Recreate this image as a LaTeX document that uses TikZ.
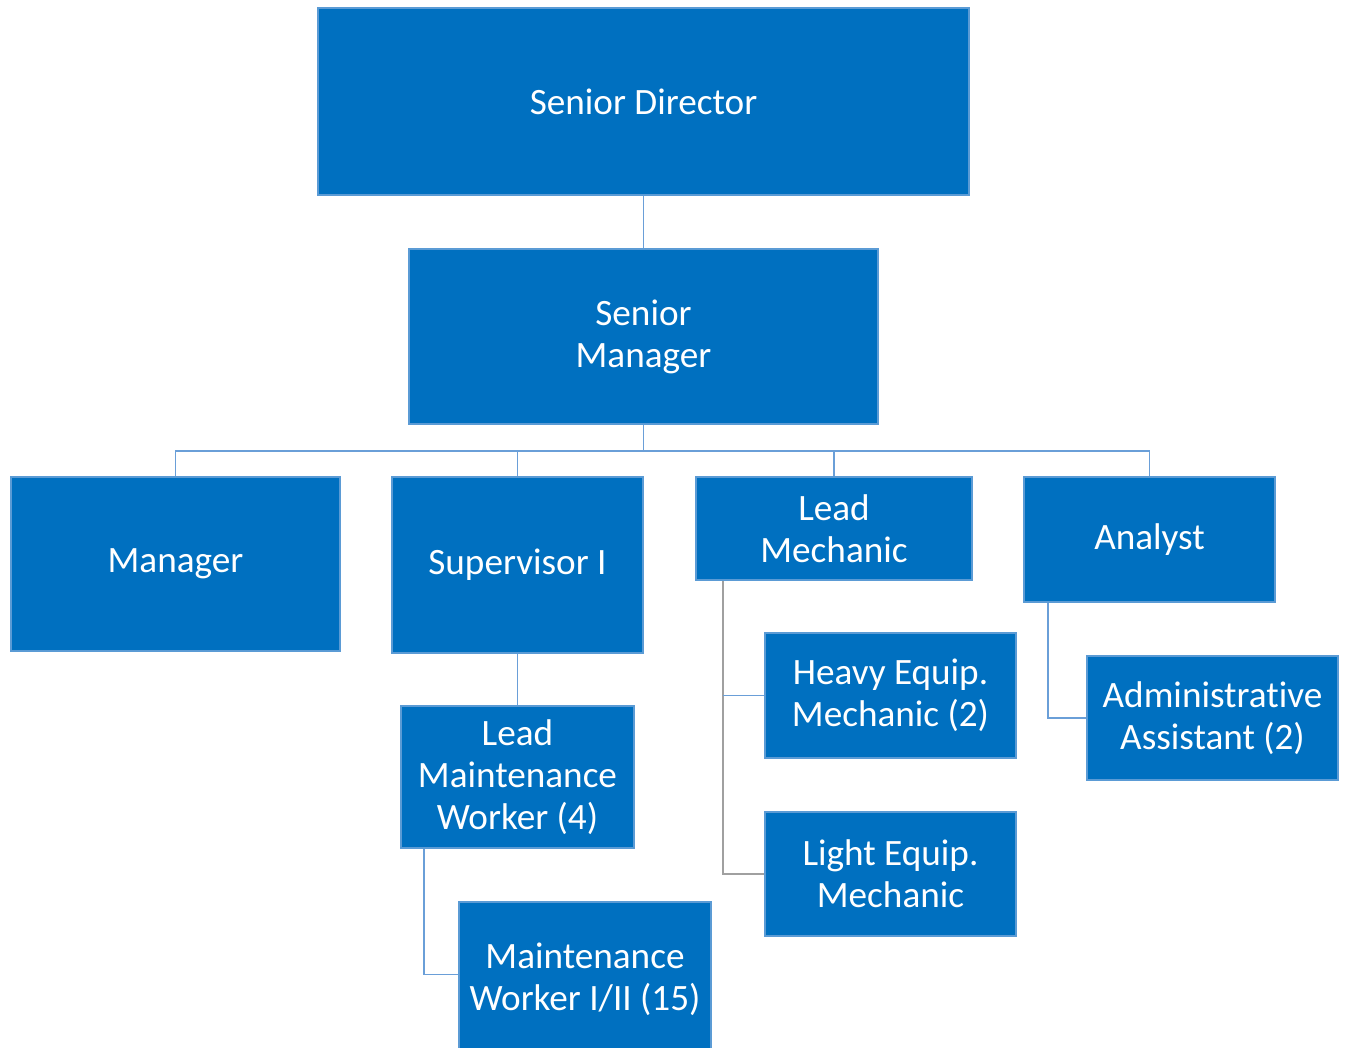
\documentclass[tikz,border=0pt]{standalone}
\usepackage{fontspec}
\setmainfont[Ligatures={NoCommon}]{Carlito}
\usetikzlibrary{calc}

\definecolor{boxfill}{HTML}{0070C0}
\definecolor{boxline}{HTML}{5B9BD5}
\definecolor{linkblue}{HTML}{6A9FD8}
\definecolor{linkgrey}{HTML}{A0A0A0}

\begin{document}
\begin{tikzpicture}[x=0.5pt, y=-0.5pt,
  orgbox/.style={draw=boxline, fill=boxfill, line width=1pt, text=white,
    align=center, inner sep=0pt, font=\fontsize{18.6}{21}\selectfont},
  link/.style={draw=linkblue, line width=0.75pt},
  greylink/.style={draw=linkgrey, line width=0.75pt}]
\useasboundingbox (0,0) rectangle (1348,1048);

% top levels
\node[orgbox, minimum width=325.5pt, minimum height=93.5pt] (sd) at (643.5,101.5) {Senior Director};
\node[orgbox, minimum width=234.5pt, minimum height=87.5pt] (sm) at (643.5,336.5) {Senior\\Manager};

% third level
\node[orgbox, minimum width=164.5pt, minimum height=87pt] (mgr) at (175.5,564) {Manager};
\node[orgbox, minimum width=125.5pt, minimum height=88pt] (sup) at (517.5,565) {Supervisor I};
\node[orgbox, minimum width=138pt, minimum height=51.5pt] (lm) at (834,528.5) {Lead\\Mechanic};
\node[orgbox, minimum width=125.5pt, minimum height=62.5pt] (ana) at (1149.5,539.5) {Analyst};

% lower levels
\node[orgbox, minimum width=116.5pt, minimum height=71pt] (lmw) at (517.5,777) {Lead\\Maintenance\\Worker (4)};
\node[orgbox, minimum width=126pt, minimum height=77pt, anchor=north] (mw) at (585,901) {Maintenance\\Worker I/II (15)};
\node[orgbox, minimum width=125.5pt, minimum height=62.5pt] (hem) at (890.5,695.5) {Heavy Equip.\\Mechanic (2)};
\node[orgbox, minimum width=125.5pt, minimum height=62pt] (lem) at (890.5,874) {Light Equip.\\Mechanic};
\node[orgbox, minimum width=125.5pt, minimum height=62pt] (aa) at (1212.5,718) {Administrative\\Assistant (2)};

% connectors
\coordinate (bus) at (643.5,451);
\draw[link] (sd) -- (sm);
\draw[link] (sm) -- (bus);
\draw[link] (mgr.north) |- (bus) -| (ana.north);
\draw[link] (sup.north) -- (sup.north |- bus);
\draw[link] (lm.north) -- (lm.north |- bus);

\draw[link] (sup) -- (lmw);
\draw[link] ([xshift=12pt]lmw.south west) |- ($(mw.north west)!0.47!(mw.south west)$);

\draw[greylink] ([xshift=14pt]lm.south west) |- (lem.west);
\draw[link] ([xshift=14pt]lm.south west |- hem.west) -- (hem.west);

\draw[link] ([xshift=12.5pt]ana.south west) |- (aa.west);

\end{tikzpicture}
\end{document}
